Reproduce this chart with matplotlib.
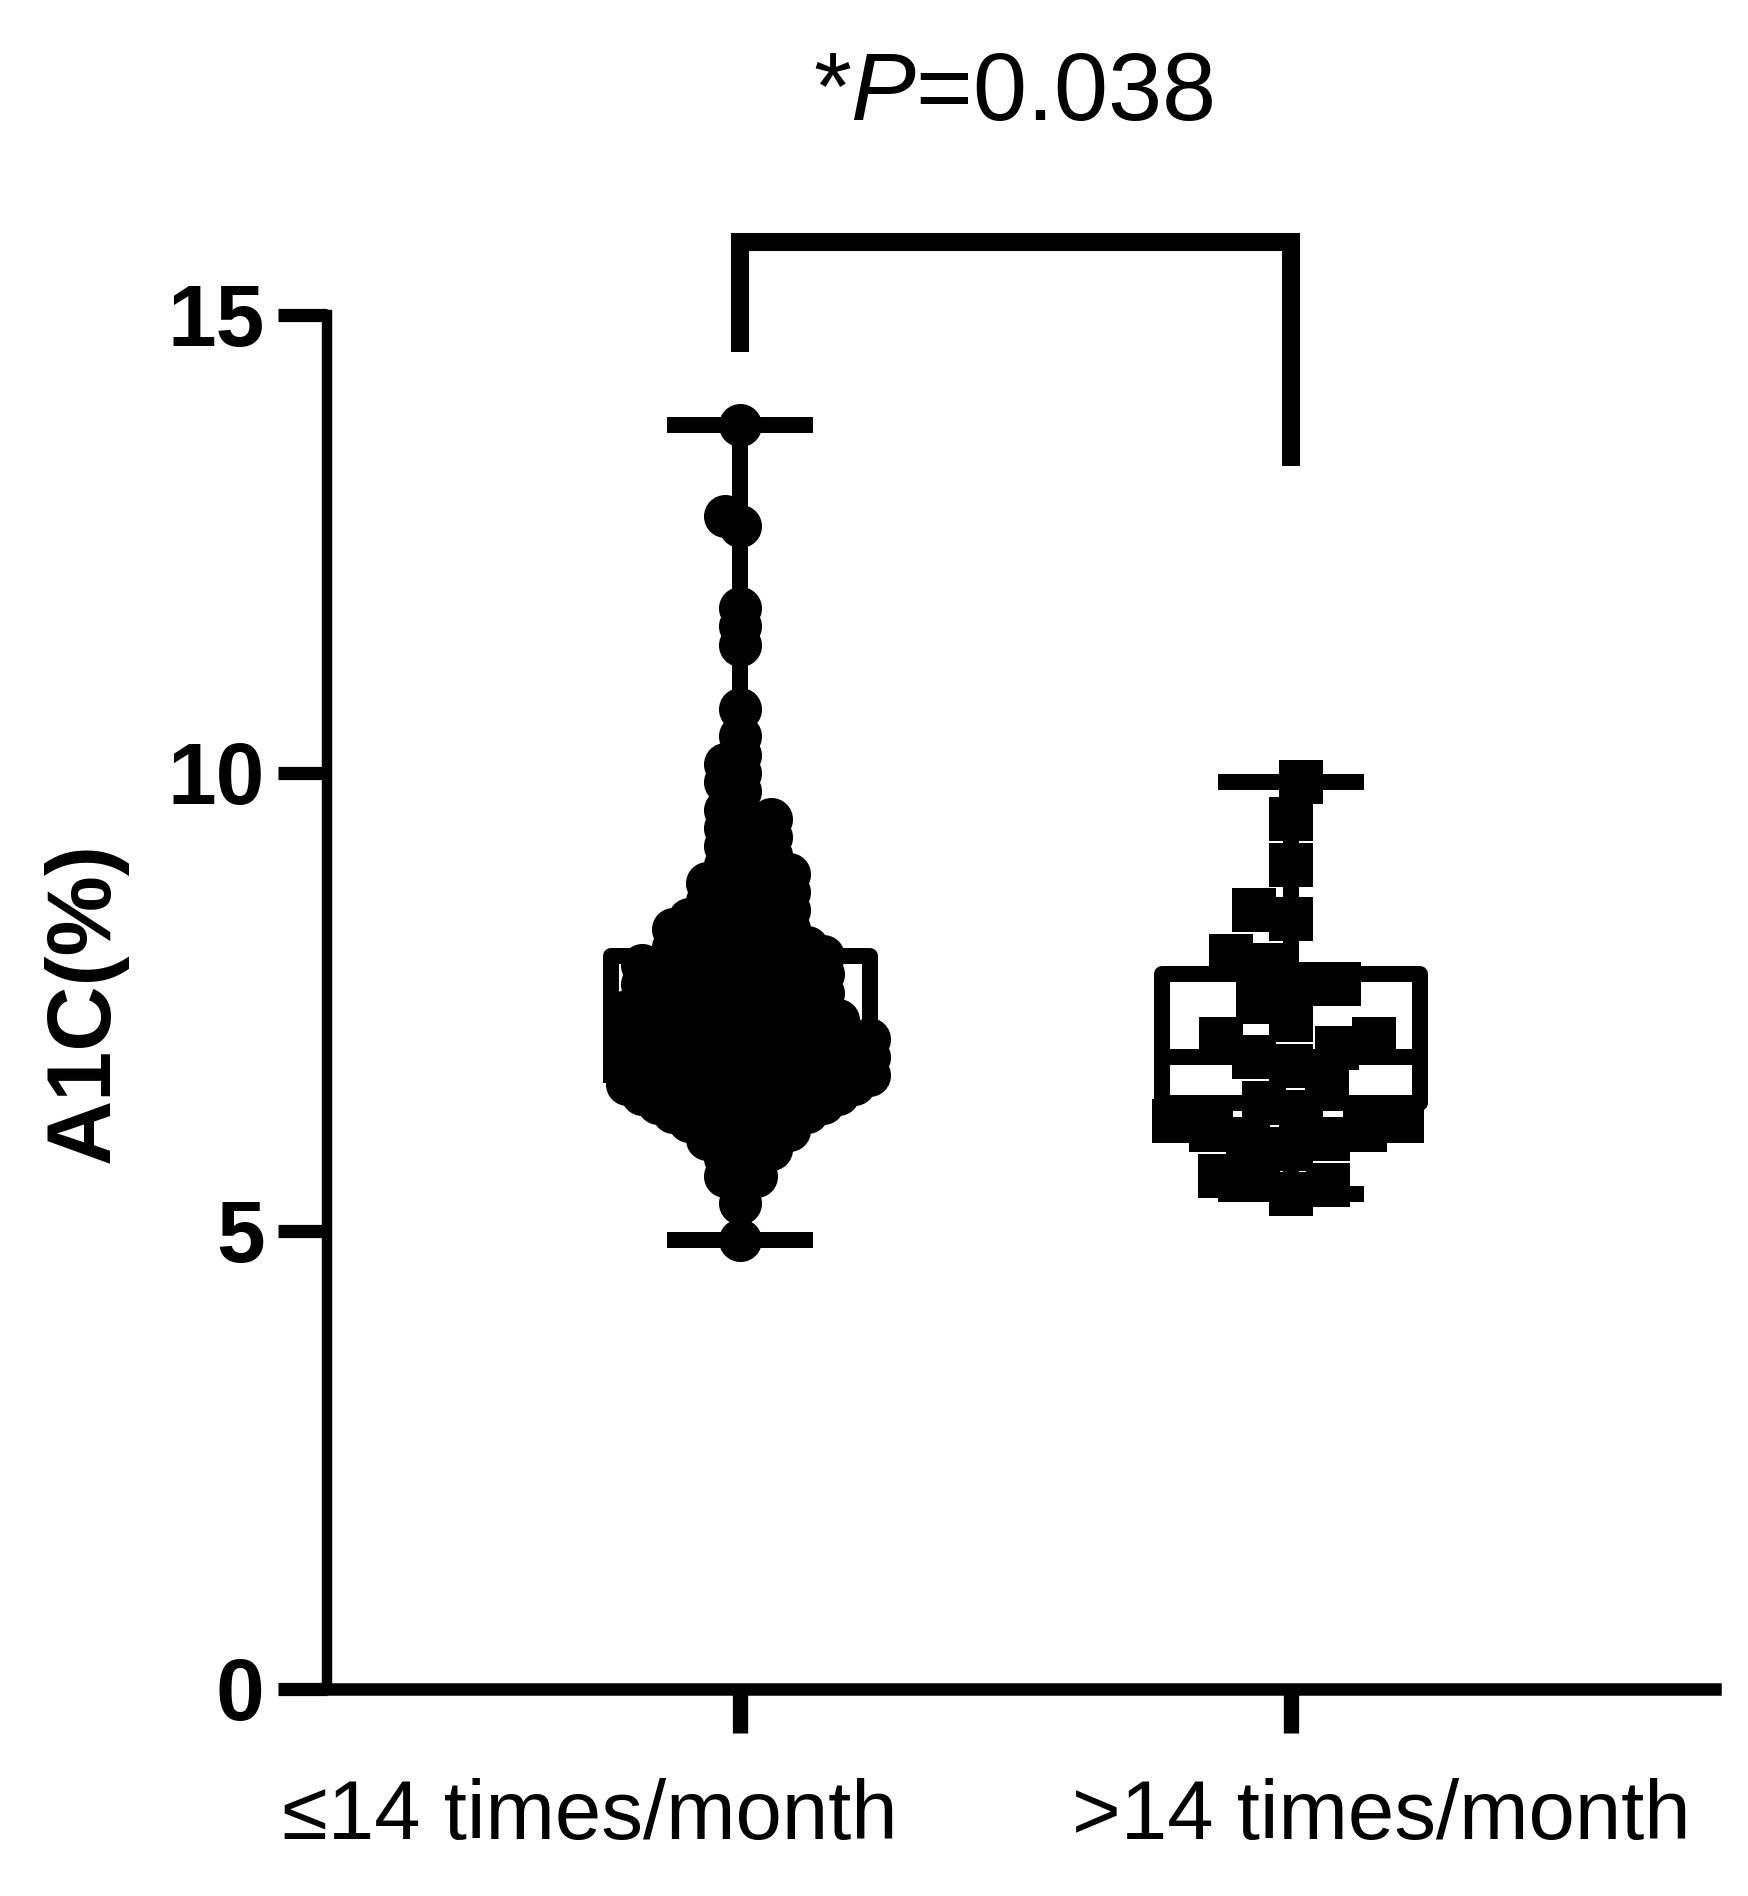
import numpy as np
import matplotlib
matplotlib.use("Agg")
import matplotlib.pyplot as plt
from matplotlib.transforms import ScaledTranslation

plt.rcParams["font.family"] = ["Liberation Sans", "DejaVu Sans"]
plt.rcParams["mathtext.fontset"] = "custom"
plt.rcParams["mathtext.it"] = "Liberation Sans:italic"
plt.rcParams["mathtext.rm"] = "Liberation Sans"

groups = ["≤14 times/month", ">14 times/month"]

# A1C (%) is recorded to 0.1 -> level and number of patients at that level
low_levels = [4.9, 5.3, 5.5, 5.6, 5.7, 5.8, 5.9,
              6.0, 6.1, 6.2, 6.3, 6.4, 6.5, 6.6, 6.7, 6.8, 6.9,
              7.0, 7.1, 7.2, 7.3, 7.4, 7.5, 7.6, 7.7, 7.8, 7.9,
              8.0, 8.1, 8.2, 8.3, 8.4, 8.5, 8.6, 8.7, 8.8, 8.9,
              9.0, 9.1, 9.2, 9.3, 9.4, 9.5, 9.6,
              9.8, 9.9, 10.0, 10.1, 10.2, 10.4,
              10.7, 11.4, 11.6, 11.8, 12.7, 12.8, 13.8]
low_counts = [1, 1, 1, 2, 1, 2, 2,
              3, 3, 4, 5, 6, 7, 8, 8, 8, 8,
              8, 8, 7, 7, 7, 6, 6, 6, 6, 6,
              5, 5, 4, 4, 4, 3, 3, 3, 3, 3,
              2, 2, 2, 2, 2, 2, 1,
              1, 1, 1, 1, 1, 1,
              1, 1, 1, 1, 1, 1, 1]

high_values = [9.9, 9.5, 9.0, 8.5, 8.4, 8.0, 7.9, 7.7, 7.7, 7.5,
               7.3, 7.1, 7.1, 7.0, 6.9, 6.8, 6.6, 6.4, 6.3, 6.2,
               6.2, 6.1, 6.1, 6.0, 6.0, 5.9, 5.6, 5.6, 5.5, 5.4]

# min-to-max box and whiskers as drawn in the figure
box_min = [4.9, 5.4]
box_q1 = [6.7, 6.4]
box_med = [7.2, 6.9]
box_q3 = [8.0, 7.8]
box_max = [13.8, 9.9]

p_label = "*$\\mathit{P}$=0.038"
bracket_top = 15.8
bracket_ends = [14.6, 13.35]


def swarm(values, min_dist, ppu_y):
    """Beeswarm x offsets (pixels) so markers keep min_dist apart."""
    y = np.asarray(values, dtype=float) * ppu_y
    xs = np.zeros(len(y))
    px, py = [], []
    flip = 1.0
    for i in np.argsort(y, kind="stable"):
        blocks = []
        cands = [0.0]
        for xj, yj in zip(px, py):
            dy = abs(y[i] - yj)
            if dy < min_dist:
                half = np.sqrt(min_dist ** 2 - dy ** 2)
                blocks.append((xj - half, xj + half))
                cands += [xj - half, xj + half]
        cands.sort(key=lambda c: (round(abs(c), 6), c * flip))
        for c in cands:
            if all(not (lo + 1e-6 < c < hi - 1e-6) for lo, hi in blocks):
                xs[i] = c
                break
        flip = -flip
        px.append(xs[i])
        py.append(y[i])
    return xs


fig = plt.figure(figsize=(17.48, 18.96), dpi=100)
ax = fig.add_axes([0.1871, 0.1092, 0.7941, 0.7247])
ax.set_xlim(-0.75, 1.77)
ax.set_ylim(0, 15)

# pixels per data unit from the axes transform
p0 = ax.transData.transform((0, 0))
p1 = ax.transData.transform((1, 1))
ppu_x, ppu_y = p1 - p0

stats = []
for i in range(2):
    stats.append(dict(whislo=box_min[i], q1=box_q1[i], med=box_med[i],
                      q3=box_q3[i], whishi=box_max[i]))
lw_box = 11.5
ax.bxp(stats, positions=[0, 1], widths=0.47, capwidths=0.236,
       showfliers=False,
       boxprops=dict(color="black", linewidth=lw_box),
       whiskerprops=dict(color="black", linewidth=lw_box),
       capprops=dict(color="black", linewidth=lw_box),
       medianprops=dict(color="black", linewidth=lw_box))

low_values = np.repeat(low_levels, low_counts)
off_low = swarm(low_values, 18, ppu_y)
ax.scatter(0 + off_low / ppu_x, low_values, s=31 ** 2, marker="o",
           color="black", linewidths=0, zorder=3, clip_on=False)

off_high = swarm(high_values, 38, ppu_y)
ax.scatter(1 + off_high / ppu_x, high_values, s=32 ** 2, marker="s",
           color="black", linewidths=0, zorder=3, clip_on=False)

# significance bracket
ax.plot([0, 0, 1, 1], [bracket_ends[0], bracket_top, bracket_top, bracket_ends[1]],
        color="black", lw=13, clip_on=False, solid_joinstyle="miter",
        solid_capstyle="butt")

ax.spines["top"].set_visible(False)
ax.spines["right"].set_visible(False)
ax.spines["left"].set_linewidth(7.5)
ax.spines["bottom"].set_linewidth(9)

ax.set_yticks([0, 5, 10, 15])
ax.set_yticklabels(["0", "5", "10", "15"], fontsize=63, fontweight="bold")
ax.tick_params(axis="y", length=35, width=9.5, pad=10)
ax.set_xticks([0, 1])
ax.set_xticklabels(groups, fontsize=60)
ax.tick_params(axis="x", length=32, width=11, pad=32)
for lab, dx in zip(ax.get_xticklabels(), [-1.5, 0.9]):
    lab.set_transform(lab.get_transform() + ScaledTranslation(dx, 0, fig.dpi_scale_trans))

fig.text(0.0486, 0.471, "A1C(%)", rotation=90, ha="center", va="center",
         fontsize=65, fontweight="bold")
fig.text(0.5795, 0.9367, p_label, ha="center", va="baseline", fontsize=70)

fig.savefig("out.png", dpi=100, facecolor="white")
